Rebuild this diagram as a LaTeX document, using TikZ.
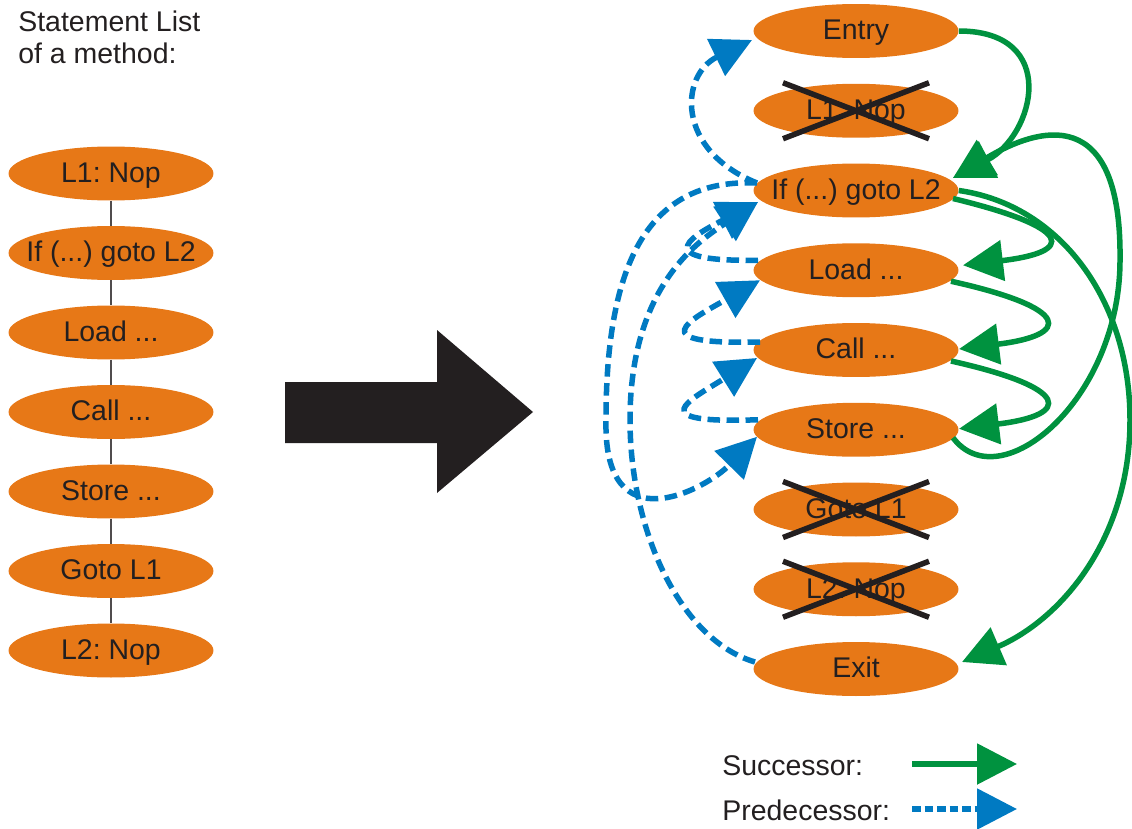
\documentclass[tikz,border=0pt]{standalone}
\usepackage{fontspec}
\setmainfont{Liberation Sans}
\usetikzlibrary{shapes.geometric,arrows.meta,calc}
\definecolor{orng}{RGB}{231,120,23}
\definecolor{grn}{RGB}{0,146,63}
\definecolor{blu}{RGB}{0,122,194}
\definecolor{blk}{RGB}{35,31,32}
\definecolor{lnk}{RGB}{80,76,77}
\newcommand{\stx}[1]{\makebox[0pt]{#1}}
\frenchspacing
\begin{document}
\begin{tikzpicture}[x=0.02cm,y=-0.02cm,
  txtfont/.style={font=\fontsize{16.2}{19}\selectfont, text=blk},
  stmt/.style={ellipse, fill=orng, draw=none, minimum width=4.1cm, minimum height=1.08cm,
    inner sep=0pt, txtfont, text height=11.6pt, text depth=1.5pt},
  label/.style={anchor=base west, inner sep=0pt, txtfont},
  link/.style={draw=lnk, line width=0.7pt},
  succ/.style={draw=grn, line width=0.11cm, -{Triangle[length=0.8cm,width=0.8cm]}},
  pred/.style={draw=blu, line width=0.11cm, dash pattern=on 0.25cm off 0.13cm,
    -{Triangle[length=0.8cm,width=0.8cm]}},
  predlegend/.style={pred, dash pattern=on 0.17cm off 0.08cm},
  crossout/.style={draw=blk, line width=0.11cm}
]
\useasboundingbox (0,0) rectangle (1132,828);

% title
\node[label] (title1) at (18,31.7) {Statement List};
\node[label] (title2) at (18,63.3) {of a method:};

% left statement list
\node[stmt] (ll1)    at (111,173.5) {\stx{L1: Nop}};
\node[stmt] (lif)    at (111,253)   {\stx{If (...) goto L2}};
\node[stmt] (lload)  at (111,332.5) {\stx{Load ...}};
\node[stmt] (lcall)  at (111,412)   {\stx{Call ...}};
\node[stmt] (lstore) at (111,491.5) {\stx{Store ...}};
\node[stmt] (lgoto)  at (111,571)   {\stx{Goto L1}};
\node[stmt] (ll2)    at (111,650.5) {\stx{L2: Nop}};
\draw[link] (ll1) -- (lif);
\draw[link] (lif) -- (lload);
\draw[link] (lload) -- (lcall);
\draw[link] (lcall) -- (lstore);
\draw[link] (lstore) -- (lgoto);
\draw[link] (lgoto) -- (ll2);

% big arrow
\fill[blk] (285,382) -- (437,382) -- (437,330) -- (533,412) -- (437,493) -- (437,443) -- (285,443) -- cycle;

% right graph
\node[stmt] (rentry) at (856,31)     {\stx{Entry}};
\node[stmt] (rl1)    at (856,110.75) {\stx{L1: Nop}};
\node[stmt] (rif)    at (856,190.5)  {\stx{If (...) goto L2}};
\node[stmt] (rload)  at (856,270.25) {\stx{Load ...}};
\node[stmt] (rcall)  at (856,350)    {\stx{Call ...}};
\node[stmt] (rstore) at (856,429.75) {\stx{Store ...}};
\node[stmt] (rgoto)  at (856,509.5)  {\stx{Goto L1}};
\node[stmt] (rl2)    at (856,589.25) {\stx{L2: Nop}};
\node[stmt] (rexit)  at (856,669)    {\stx{Exit}};

% cross-outs
\draw[crossout] ($(rl1.center)+(-73,-28)$) -- ($(rl1.center)+(73,28)$);
\draw[crossout] ($(rl1.center)+(-73,28)$) -- ($(rl1.center)+(73,-28)$);
\draw[crossout] ($(rgoto.center)+(-73,-28)$) -- ($(rgoto.center)+(73,28)$);
\draw[crossout] ($(rgoto.center)+(-73,28)$) -- ($(rgoto.center)+(73,-28)$);
\draw[crossout] ($(rl2.center)+(-73,-28)$) -- ($(rl2.center)+(73,28)$);
\draw[crossout] ($(rl2.center)+(-73,28)$) -- ($(rl2.center)+(73,-28)$);

% waypoints
\coordinate (g1) at (1120,260);
\coordinate (g2) at (1130,420);
\coordinate (b1) at (606,420);
\coordinate (b2) at (630,420);

% successors (green)
\draw[succ] (rentry.east) .. controls (1060,31) and (1035,135) .. ($(rif.center)+(97,-12.5)$);
\draw[succ] ($(rstore.center)+(97,8)$) .. controls (1000,500) and (1120,400) .. (g1)
  .. controls (1122,90) and (1025,135) .. ($(rif.center)+(97,-12.5)$);
\draw[succ] ($(rif.center)+(97,8)$) .. controls (1075,228) and (1075,252) .. ($(rload.center)+(107,-5)$);
\draw[succ] ($(rload.center)+(95,11)$) .. controls (1072,308) and (1072,335) .. ($(rcall.center)+(103,-1)$);
\draw[succ] ($(rcall.center)+(95,11)$) .. controls (1072,388) and (1072,415) .. ($(rstore.center)+(103,-1)$);
\draw[succ] (rif.east) .. controls (1060,205) and (1130,300) .. (g2)
  .. controls (1130,540) and (1060,620) .. ($(rexit.center)+(106,-7)$);

% predecessors (blue dashed)
\draw[pred] ($(rif.center)+(-99,-7.5)$) .. controls (675,150) and (680,75) .. ($(rentry.center)+(-104,9)$);
\draw[pred] ($(rif.center)+(-99,-7.5)$) .. controls (650,178) and (606,260) .. (b1)
  .. controls (603,545) and (705,490) .. ($(rstore.center)+(-99,7)$);
\draw[pred] ($(rexit.center)+(-101,-7)$) .. controls (680,640) and (630,530) .. (b2)
  .. controls (630,285) and (700,240) .. ($(rif.center)+(-98,11.5)$);
\draw[pred] ($(rload.center)+(-98,-10)$) .. controls (640,262) and (700,232) .. ($(rif.center)+(-98,11.5)$);
\draw[pred] ($(rcall.center)+(-96,-8)$) .. controls (640,345) and (690,320) .. ($(rload.center)+(-96,10)$);
\draw[pred] ($(rstore.center)+(-98,-10)$) .. controls (640,424) and (690,400) .. ($(rcall.center)+(-99,8)$);

% legend
\node[label] (lsucc) at (722,775) {Successor:};
\node[label] (lpred) at (722,820) {Predecessor:};
\coordinate (ls1) at (912,764);
\coordinate (ls2) at (1017,764);
\coordinate (lp1) at (912,809);
\coordinate (lp2) at (1017,809);
\draw[succ] (ls1) -- (ls2);
\draw[predlegend] (lp1) -- (lp2);
\end{tikzpicture}
\end{document}
